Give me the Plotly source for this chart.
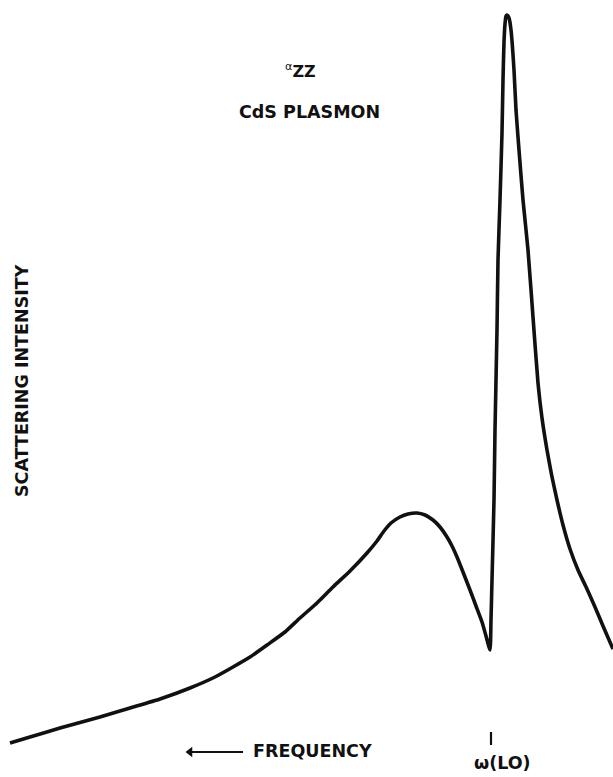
import plotly.graph_objects as go

# Frequency (arbitrary units, increasing to the right) and scattering intensity (arbitrary units)
frequency = [10, 30, 60, 100, 130, 160, 190, 215, 233, 250, 267, 285, 300, 317, 333, 350,
             367, 377, 384, 391, 400, 408, 417, 425, 433, 440, 447, 452, 457, 463, 470, 476,
             482, 486, 490, 491, 492, 494, 495, 497, 498, 500, 502, 503, 504, 505, 506, 507,
             509, 511, 514, 516, 519, 523, 528, 533, 538, 542, 547, 552, 557, 563, 570, 578,
             587, 595, 603, 613]
screen_y = [743, 737, 728, 717, 708, 699, 688, 677, 667, 657, 645, 632, 618, 603, 587, 571,
            553, 541, 531, 523, 517, 514, 513, 515, 520, 527, 537, 546, 557, 572, 590, 606,
            622, 636, 650, 620, 580, 500, 430, 330, 260, 200, 133, 80, 42, 24, 16, 15,
            18, 30, 70, 110, 150, 200, 250, 317, 383, 418, 450, 477, 500, 525, 549, 570,
            589, 607, 626, 649]
FULL = 777
intensity = [FULL - v for v in screen_y]

omega_LO = 491  # LO phonon frequency marker
arrow_x = [190, 243]  # "lower frequency" arrow extent
arrow_y = 752

fig = go.Figure()
fig.add_trace(go.Scatter(x=frequency, y=intensity, mode="lines",
                         line=dict(color="#111111", width=3.6, shape="spline", smoothing=0.5),
                         hoverinfo="skip"))

# arrow pointing toward lower frequency: shaft + head
fig.add_trace(go.Scatter(x=arrow_x, y=[FULL - arrow_y] * 2, mode="lines",
                         line=dict(color="#111111", width=2), hoverinfo="skip"))
fig.add_trace(go.Scatter(x=[arrow_x[0]], y=[FULL - arrow_y], mode="markers",
                         marker=dict(symbol="triangle-left", size=9, color="#111111"),
                         hoverinfo="skip"))

FONT = "DejaVu Sans"
txt = dict(family=FONT, size=17.5, color="#111111")

annotations = [
    dict(x=300, y=FULL - 70, text="<sup>α</sup><b>ZZ</b>", font=dict(family=FONT, size=16, color="#111111")),
    dict(x=309, y=FULL - 112, text="<b>CdS PLASMON</b>", font=txt),
    dict(x=312, y=FULL - 751, text="<b>FREQUENCY</b>", font=txt),
    dict(x=502, y=FULL - 763, text="<b>ω(LO)</b>", font=txt),
    dict(x=22, y=FULL - 381, text="<b>SCATTERING INTENSITY</b>", textangle=-90, font=txt),
]
for a in annotations:
    a.update(xref="x", yref="y", showarrow=False, xanchor="center", yanchor="middle")
    fig.add_annotation(**a)

# LO tick mark
fig.add_shape(type="line", x0=omega_LO, x1=omega_LO, y0=FULL - 732, y1=FULL - 745,
              xref="x", yref="y", line=dict(color="#111111", width=2.2))

fig.update_layout(
    width=613, height=777, margin=dict(l=0, r=0, t=0, b=0),
    paper_bgcolor="white", plot_bgcolor="white", showlegend=False,
    xaxis=dict(range=[0, 613], visible=False, fixedrange=True),
    yaxis=dict(range=[0, FULL], visible=False, fixedrange=True),
)
fig.write_html("out.html")
